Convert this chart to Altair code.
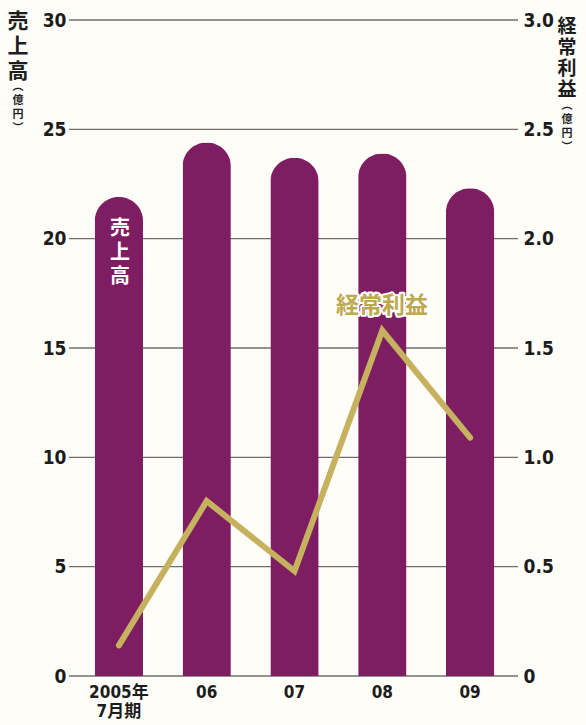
import altair as alt
import pandas as pd

# ---- data ----
years = ["2005", "06", "07", "08", "09"]
sales = [21.9, 24.4, 23.7, 23.9, 22.3]          # 売上高 (億円), left axis
profit = [0.14, 0.80, 0.48, 1.58, 1.09]         # 経常利益 (億円), right axis
left_ticks = [0, 5, 10, 15, 20, 25, 30]
right_ticks = [0, 0.5, 1.0, 1.5, 2.0, 2.5, 3.0]

W, H = 439, 656
BAR = "#7E1D61"
GOLD = "#C6B25E"
NUM_FONT = "Liberation Sans Narrow, DejaVu Sans Condensed, Noto Sans CJK JP, sans-serif"
JP_FONT = "Noto Sans CJK JP"
TXT = "#1c1c1c"

df = pd.DataFrame({"year": years, "sales": sales, "profit": profit})
grid_df = pd.DataFrame({"v": left_ticks})
one = pd.DataFrame({"k": [0]})

yl = alt.Scale(domain=[0, 30], nice=False)
yr = alt.Scale(domain=[0, 3], nice=False)
xs = alt.Scale(paddingInner=0.45, paddingOuter=0.225)

x_axis = alt.Axis(
    orient="bottom", title=None, domain=False, ticks=False, grid=False, labelAngle=0,
    labelPadding=8, labelFont=NUM_FONT, labelFontSize=17, labelFontWeight="bold",
    labelColor=TXT, labelLineHeight=19,
    labelExpr="datum.value == '2005' ? ['2005年', '7月期'] : datum.value")
yl_axis = alt.Axis(
    orient="left", values=left_ticks, title=None, grid=False, domain=False,
    ticks=False, labelPadding=9, labelFont=NUM_FONT, labelFontSize=19,
    labelFontWeight="bold", labelColor=TXT)
yr_axis = alt.Axis(
    orient="right", values=right_ticks, title=None, grid=False, domain=False,
    ticks=False, labelPadding=9, labelFont=NUM_FONT, labelFontSize=19,
    labelFontWeight="bold", labelColor=TXT,
    labelExpr="datum.value == 0 ? '0' : format(datum.value, '.1f')")


def vtext(chars, x, y0, step, size, color=TXT):
    """Vertical text: one mark per character so the glyphs stack cleanly."""
    return [
        alt.Chart(one).mark_text(
            text=c, font=JP_FONT, fontSize=size, fontWeight="bold",
            color=color, baseline="middle", align="center",
        ).encode(x=alt.value(x), y=alt.value(y0 + i * step))
        for i, c in enumerate(chars)
    ]


grid = alt.Chart(grid_df).mark_rule(color="#6e6e6e", strokeWidth=1.4).encode(
    y=alt.Y("v:Q", scale=yl, axis=yl_axis),
    x=alt.value(-6), x2=alt.value(W + 4),
)

bars = alt.Chart(df).mark_bar(
    color=BAR, cornerRadiusTopLeft=24, cornerRadiusTopRight=24
).encode(
    x=alt.X("year:N", sort=years, scale=xs, axis=x_axis),
    y=alt.Y("sales:Q", scale=yl, axis=yl_axis),
)

bar_label = vtext(["売", "上", "高"], 45, 209, 24, 20, color="white")

left_title = vtext(["売", "上", "高"], -57, 2, 25, 21)
left_unit = vtext(["︵", "億", "円", "︶"], -57, 67, 14, 11)

left = alt.layer(grid, bars, *bar_label, *left_title, *left_unit)

line = alt.Chart(df).mark_line(color=GOLD, strokeWidth=6, strokeCap="round",
                               strokeJoin="miter").encode(
    x=alt.X("year:N", sort=years, scale=xs, axis=x_axis),
    y=alt.Y("profit:Q", scale=yr, axis=yr_axis),
)

line_label_halo = alt.Chart(one).mark_text(
    text="経常利益", font=JP_FONT, fontSize=23, fontWeight="bold",
    color="white", stroke="white", strokeWidth=4, strokeJoin="round",
    align="center", baseline="middle",
).encode(x=alt.value(307), y=alt.value(286))

line_label = alt.Chart(one).mark_text(
    text="経常利益", font=JP_FONT, fontSize=23, fontWeight="bold",
    color="#BDA94E", align="center", baseline="middle",
).encode(x=alt.value(307), y=alt.value(286))

right_title = vtext(["経", "常", "利", "益"], 492, 7, 21, 19)
right_unit = vtext(["︵", "億", "円", "︶"], 492, 86, 14, 11)

right = alt.layer(line, line_label_halo, line_label, *right_title, *right_unit)

chart = alt.layer(left, right).resolve_scale(y="independent").properties(
    width=W, height=H,
    padding={"left": 75, "top": 20, "right": 72, "bottom": 49},
    autosize=alt.AutoSizeParams(type="none"),
    background="#fefdf8",
).configure_view(stroke=None)

chart.save("out.html", embed_options={"renderer": "svg", "actions": False})
